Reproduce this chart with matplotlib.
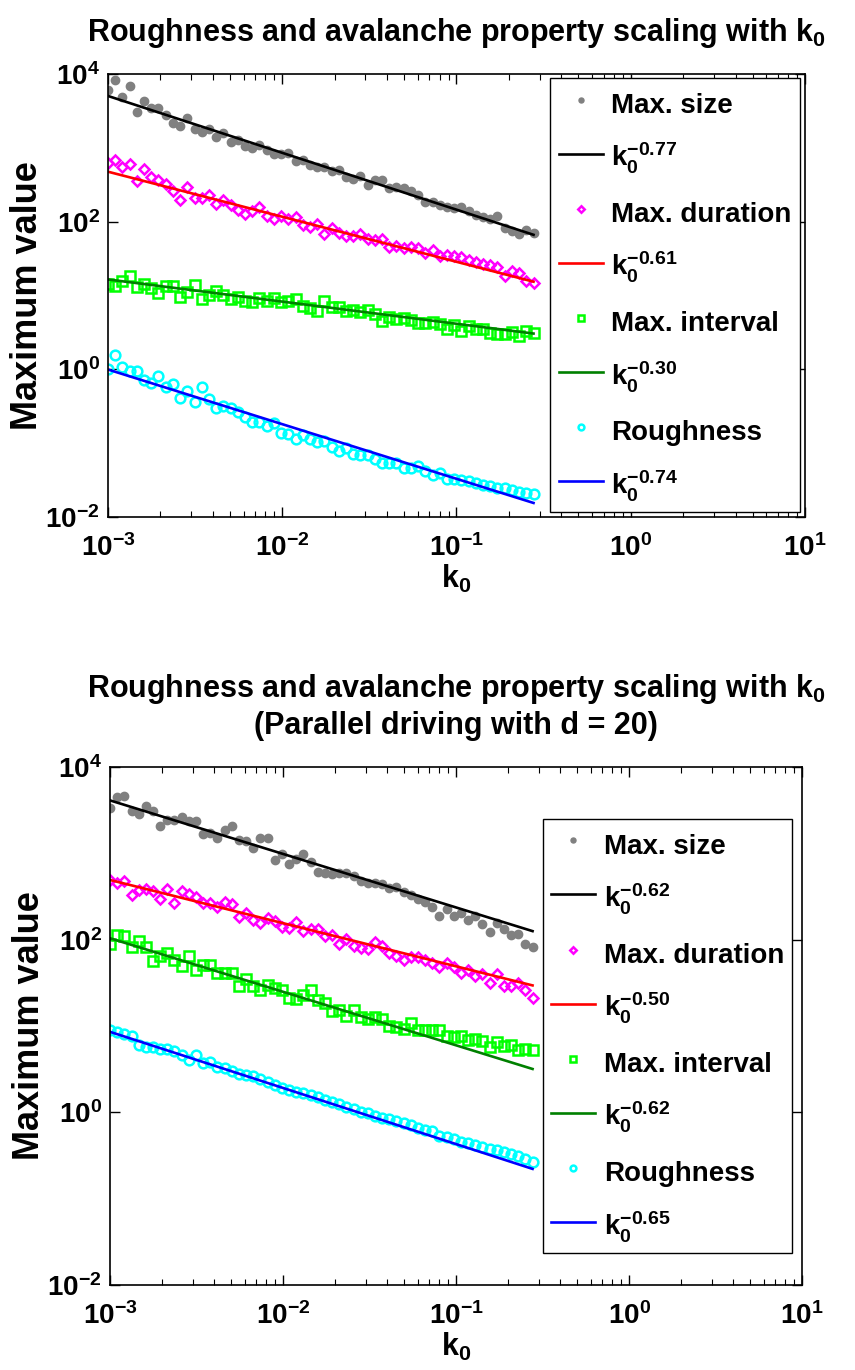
import matplotlib.pyplot as plt
from matplotlib.ticker import NullLocator
import numpy as np

# k0 grid (units of 1e-3), same for both panels
k0_milli = [1.0, 1.1, 1.21, 1.331, 1.4641, 1.6105, 1.7716, 1.9487, 2.1436, 2.3579,
            2.5937, 2.8531, 3.1384, 3.4523, 3.7975, 4.1772, 4.595, 5.0545, 5.5599, 6.1159,
            6.7275, 7.4002, 8.1403, 8.9543, 9.8497, 10.835, 11.918, 13.11, 14.421, 15.863,
            17.449, 19.194, 21.114, 23.225, 25.548, 28.102, 30.913, 34.004, 37.404, 41.145,
            45.259, 49.785, 54.764, 60.24, 66.264, 72.89, 80.18, 88.197, 97.017, 106.72,
            117.39, 129.13, 142.04, 156.25, 171.87, 189.06, 207.97, 228.76, 251.64, 276.8]

# log10 of the plotted maxima, top panel
size_top = [3.78, 3.92, 3.69, 3.84, 3.48, 3.63, 3.54, 3.54, 3.44, 3.33,
            3.29, 3.41, 3.25, 3.21, 3.25, 3.14, 3.20, 3.08, 3.10, 3.03,
            3.00, 3.04, 2.97, 2.91, 2.91, 2.93, 2.82, 2.83, 2.77, 2.74,
            2.74, 2.69, 2.70, 2.61, 2.58, 2.62, 2.50, 2.56, 2.56, 2.46,
            2.47, 2.45, 2.42, 2.36, 2.27, 2.27, 2.23, 2.20, 2.18, 2.20,
            2.15, 2.09, 2.06, 2.03, 2.08, 1.91, 1.88, 1.83, 1.89, 1.85]
dur_top = [2.80, 2.83, 2.74, 2.78, 2.55, 2.71, 2.61, 2.56, 2.51, 2.42,
           2.30, 2.47, 2.32, 2.32, 2.36, 2.24, 2.30, 2.23, 2.16, 2.11,
           2.14, 2.20, 2.08, 2.04, 2.07, 2.03, 2.06, 1.95, 1.93, 1.97,
           1.83, 1.91, 1.85, 1.81, 1.81, 1.83, 1.77, 1.75, 1.77, 1.66,
           1.67, 1.64, 1.66, 1.65, 1.58, 1.61, 1.53, 1.55, 1.53, 1.52,
           1.48, 1.46, 1.43, 1.41, 1.38, 1.26, 1.33, 1.30, 1.20, 1.17]
int_top = [1.16, 1.13, 1.20, 1.26, 1.11, 1.15, 1.10, 1.03, 1.13, 1.13,
           0.98, 1.05, 1.14, 0.95, 1.01, 1.06, 1.01, 0.95, 0.98, 0.92,
           0.91, 0.96, 0.93, 0.96, 0.91, 0.93, 0.95, 0.86, 0.83, 0.79,
           0.92, 0.84, 0.84, 0.79, 0.81, 0.78, 0.80, 0.75, 0.66, 0.71,
           0.68, 0.69, 0.67, 0.63, 0.63, 0.64, 0.61, 0.55, 0.60, 0.52,
           0.59, 0.55, 0.54, 0.49, 0.48, 0.48, 0.51, 0.45, 0.52, 0.49]
rough_top = [0.00, 0.19, 0.03, -0.02, -0.02, -0.15, -0.19, -0.09, -0.24, -0.20,
             -0.39, -0.29, -0.44, -0.24, -0.40, -0.53, -0.49, -0.52, -0.58, -0.65,
             -0.71, -0.71, -0.77, -0.73, -0.86, -0.87, -0.94, -0.89, -0.94, -0.98,
             -0.97, -1.05, -1.10, -1.07, -1.15, -1.16, -1.16, -1.22, -1.27, -1.27,
             -1.27, -1.33, -1.34, -1.31, -1.37, -1.43, -1.41, -1.48, -1.49, -1.50,
             -1.51, -1.54, -1.57, -1.58, -1.60, -1.61, -1.64, -1.66, -1.68, -1.69]

# log10 of the plotted maxima, bottom panel (parallel driving, d = 20)
size_bot = [3.53, 3.65, 3.66, 3.49, 3.46, 3.55, 3.49, 3.32, 3.39, 3.39,
            3.42, 3.38, 3.38, 3.22, 3.24, 3.18, 3.27, 3.32, 3.16, 3.14,
            3.06, 3.18, 3.18, 2.92, 2.99, 2.88, 2.94, 2.99, 2.90, 2.78,
            2.77, 2.76, 2.77, 2.77, 2.74, 2.68, 2.66, 2.66, 2.65, 2.60,
            2.61, 2.55, 2.52, 2.47, 2.44, 2.38, 2.28, 2.36, 2.27, 2.31,
            2.23, 2.28, 2.18, 2.09, 2.19, 2.13, 2.05, 2.07, 1.95, 1.92]
dur_bot = [2.69, 2.66, 2.68, 2.52, 2.58, 2.59, 2.56, 2.47, 2.59, 2.42,
           2.57, 2.53, 2.50, 2.42, 2.42, 2.38, 2.44, 2.41, 2.26, 2.31,
           2.23, 2.19, 2.25, 2.22, 2.15, 2.14, 2.20, 2.10, 2.13, 2.12,
           2.04, 2.06, 1.95, 2.01, 1.93, 1.90, 1.89, 1.97, 1.93, 1.85,
           1.81, 1.77, 1.80, 1.80, 1.77, 1.73, 1.68, 1.73, 1.68, 1.61,
           1.65, 1.58, 1.60, 1.50, 1.60, 1.46, 1.46, 1.50, 1.42, 1.32]
int_bot = [1.95, 2.05, 2.04, 1.91, 1.98, 1.92, 1.75, 1.81, 1.85, 1.77,
           1.69, 1.81, 1.65, 1.71, 1.71, 1.62, 1.62, 1.62, 1.46, 1.54,
           1.46, 1.42, 1.48, 1.44, 1.42, 1.33, 1.31, 1.36, 1.42, 1.30,
           1.27, 1.18, 1.19, 1.12, 1.19, 1.11, 1.08, 1.10, 1.08, 1.00,
           0.99, 0.97, 1.04, 0.95, 0.96, 0.95, 0.96, 0.88, 0.87, 0.89,
           0.84, 0.85, 0.83, 0.76, 0.82, 0.77, 0.78, 0.72, 0.74, 0.72]
rough_bot = [0.95, 0.93, 0.91, 0.89, 0.78, 0.76, 0.76, 0.73, 0.74, 0.71,
             0.67, 0.61, 0.66, 0.57, 0.58, 0.53, 0.51, 0.48, 0.45, 0.43,
             0.42, 0.39, 0.35, 0.32, 0.28, 0.26, 0.24, 0.22, 0.20, 0.18,
             0.14, 0.12, 0.10, 0.06, 0.04, 0.00, -0.01, -0.04, -0.06, -0.08,
             -0.10, -0.12, -0.15, -0.18, -0.20, -0.22, -0.27, -0.29, -0.31, -0.34,
             -0.35, -0.38, -0.40, -0.42, -0.44, -0.46, -0.48, -0.51, -0.54, -0.58]

# power-law fits: value at k0 = 1e-3 and exponent
names = ["Max. size", "Max. duration", "Max. interval", "Roughness"]
fit_start_top = [5040, 475, 16.5, 0.995]
fit_exp_top = [0.77, 0.61, 0.30, 0.74]
fit_start_bot = [4110, 492, 104, 8.57]
fit_exp_bot = [0.62, 0.50, 0.62, 0.65]

plt.rcParams['font.family'] = 'Liberation Sans'
plt.rcParams['font.weight'] = 'bold'
plt.rcParams['axes.titleweight'] = 'bold'
plt.rcParams['axes.labelweight'] = 'bold'
plt.rcParams['mathtext.fontset'] = 'custom'
plt.rcParams['mathtext.rm'] = 'Liberation Sans:bold'
plt.rcParams['mathtext.it'] = 'Liberation Sans:bold'
plt.rcParams['mathtext.bf'] = 'Liberation Sans:bold'
plt.rcParams['mathtext.sf'] = 'Liberation Sans:bold'
plt.rcParams['mathtext.default'] = 'rm'

marker_styles = [
    dict(marker='o', color='#808080', markersize=6, linestyle='none'),
    dict(marker='D', markerfacecolor='none', markeredgecolor='#ff00ff', markersize=5.5, markeredgewidth=1.8, linestyle='none'),
    dict(marker='s', markerfacecolor='none', markeredgecolor='#00ff00', markersize=7, markeredgewidth=1.8, linestyle='none'),
    dict(marker='o', markerfacecolor='none', markeredgecolor='#00ffff', markersize=7, markeredgewidth=1.8, linestyle='none'),
]
line_colors = ['black', '#ff0000', '#008000', '#0000ff']

k0 = np.array(k0_milli) * 1e-3


def panel(ax, series, starts, exps, legend_anchor):
    for i in range(4):
        ax.plot(k0, 10 ** np.array(series[i]), label=names[i], **marker_styles[i])
        fit = starts[i] * (k0 / k0[0]) ** (-exps[i])
        ax.plot(k0, fit, color=line_colors[i], linewidth=1.9,
                label=r'$k_0^{-%.2f}$' % exps[i])
    ax.set_xscale('log')
    ax.set_yscale('log')
    ax.set_xlim(1e-3, 10)
    ax.set_ylim(1e-2, 1e4)
    ax.set_xticks([1e-3, 1e-2, 1e-1, 1, 10])
    ax.set_yticks([1e-2, 1, 1e2, 1e4])
    ax.yaxis.set_minor_locator(NullLocator())
    ax.tick_params(which='both', direction='in', top=True, right=True, labelsize=20)
    ax.tick_params(which='major', length=7, width=1)
    ax.tick_params(which='minor', length=4, width=0.8)
    ax.tick_params(axis='x', pad=12)
    ax.tick_params(axis='y', pad=6)
    for s in ax.spines.values():
        s.set_linewidth(1.2)
    ax.set_xlabel(r'$k_0$', fontsize=22, labelpad=1)
    ax.set_ylabel('Maximum value', fontsize=26, labelpad=0)
    leg = ax.legend(loc='upper right', bbox_to_anchor=legend_anchor, fontsize=20,
                    fancybox=False, framealpha=1, edgecolor='black', markerscale=0.6,
                    handlelength=1.6, handletextpad=0.3, labelspacing=0.69,
                    borderpad=0.3, borderaxespad=0, handleheight=1.55)
    leg.get_frame().set_linewidth(1.0)


fig = plt.figure(figsize=(8.55, 13.7), dpi=100)

ax1 = fig.add_axes([0.1263, 0.6226, 0.8152, 0.3234])
panel(ax1, [size_top, dur_top, int_top, rough_top], fit_start_top, fit_exp_top, (0.993, 0.991))
ax1.set_title(r'Roughness and avalanche property scaling with $k_0$', fontsize=22, pad=24)

ax2 = fig.add_axes([0.1287, 0.0620, 0.8094, 0.3781])
panel(ax2, [size_bot, dur_bot, int_bot, rough_bot], fit_start_bot, fit_exp_bot, (0.986, 0.90))
ax2.set_title('Roughness and avalanche property scaling with $k_0$\n(Parallel driving with d = 20)',
              fontsize=22, pad=24, linespacing=1.2)

plt.savefig('out.png', dpi=100)
